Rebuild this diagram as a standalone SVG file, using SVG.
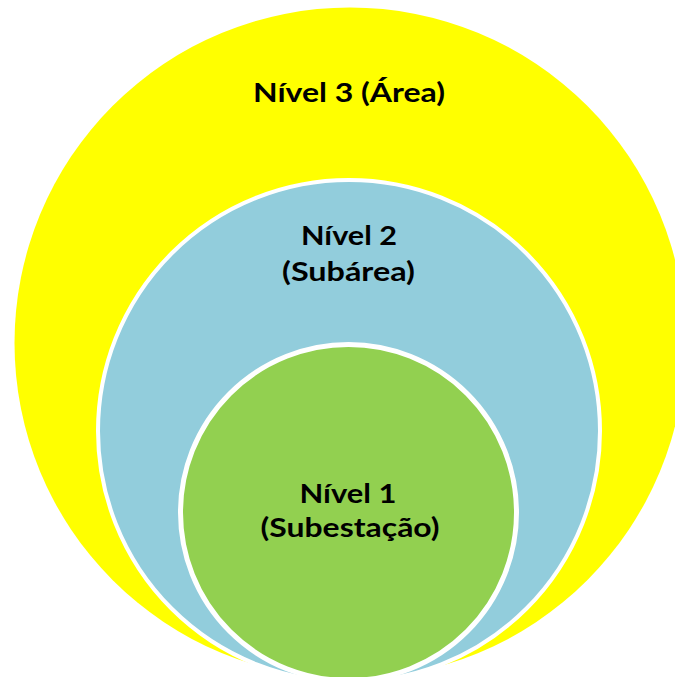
<svg xmlns="http://www.w3.org/2000/svg" width="675" height="677" viewBox="0 0 675 677">
  <style>
    .ring { stroke: #FFFFFF; }
    .label { font-family: Lato, "Open Sans", "Liberation Sans", sans-serif; font-weight: bold; font-size: 27px; fill: #000000; text-anchor: middle; }
  </style>
  <rect width="675" height="677" fill="#FFFFFF"/>

  <!-- Level 3: outermost area -->
  <g id="nivel3">
    <circle cx="350" cy="343" r="335.5" fill="#FFFF00"/>
    <text class="label" x="349" y="102" textLength="192" lengthAdjust="spacingAndGlyphs">Nível 3 (Área)</text>
  </g>

  <!-- Level 2: sub-area -->
  <g id="nivel2">
    <circle class="ring" cx="349" cy="431" r="251" fill="#92CDDC" stroke-width="4"/>
    <text class="label" x="349" y="245" textLength="96" lengthAdjust="spacingAndGlyphs">Nível 2</text>
    <text class="label" x="348.5" y="281" textLength="133" lengthAdjust="spacingAndGlyphs">(Subárea)</text>
  </g>

  <!-- Level 1: substation -->
  <g id="nivel1">
    <circle class="ring" cx="348.5" cy="512.5" r="168" fill="#92D050" stroke-width="5"/>
    <text class="label" x="348" y="503" textLength="97" lengthAdjust="spacingAndGlyphs">Nível 1</text>
    <text class="label" x="350" y="537" textLength="179" lengthAdjust="spacingAndGlyphs">(Subestação)</text>
  </g>
</svg>
